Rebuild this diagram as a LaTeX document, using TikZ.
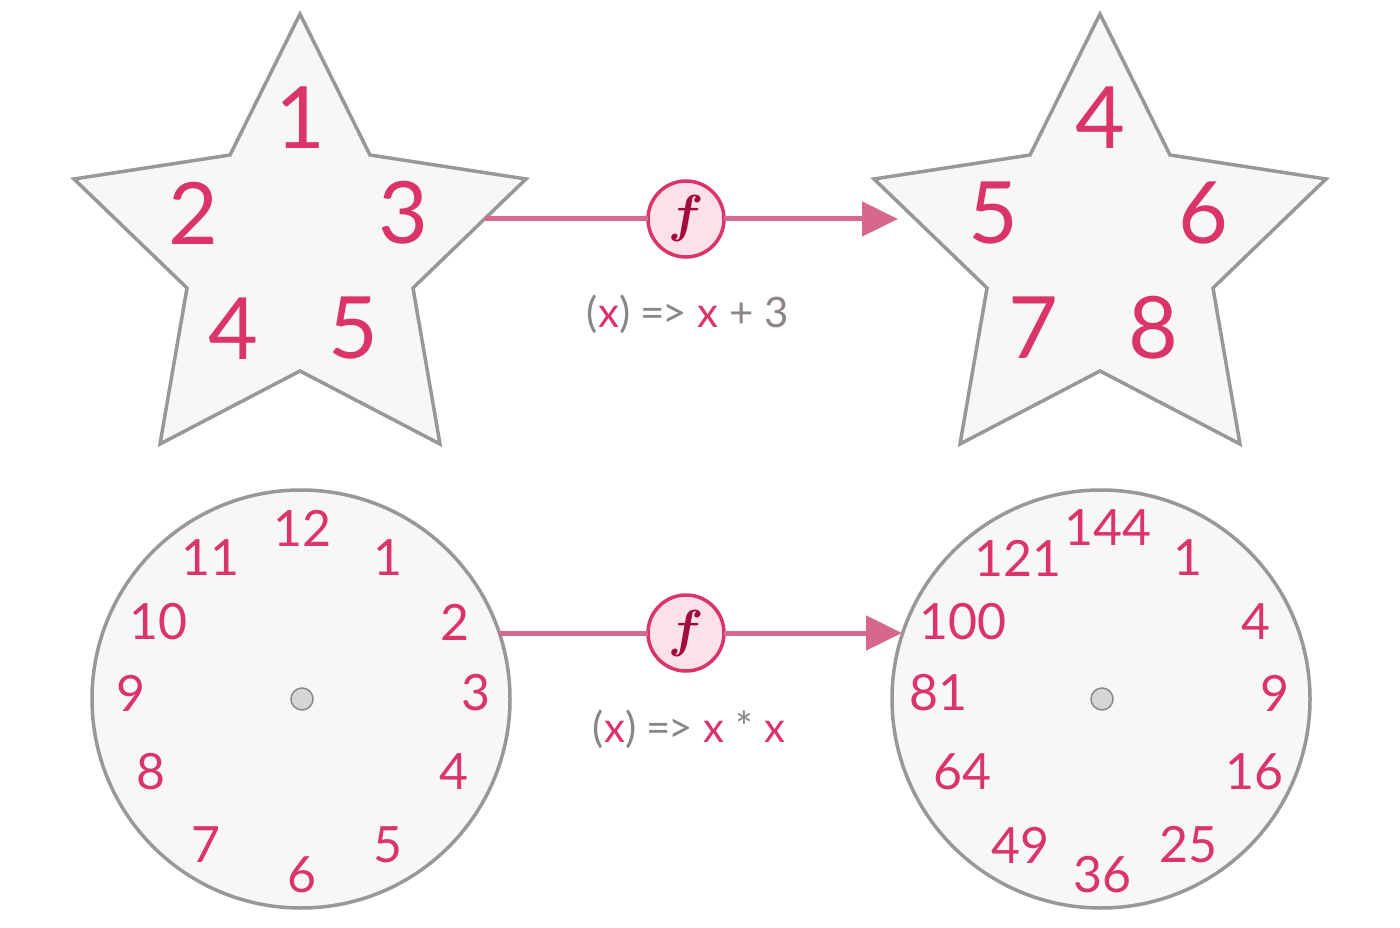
\documentclass[tikz,border=0pt]{standalone}
\usepackage{fontspec}
\setmainfont{Lato}
\usetikzlibrary{arrows.meta}
\definecolor{numpink}{HTML}{DA3468}
\definecolor{arrowpink}{HTML}{D6698B}
\definecolor{fpink}{HTML}{FCE1E9}
\definecolor{fdark}{HTML}{A10A3A}
\definecolor{shapegray}{HTML}{989898}
\definecolor{shapefill}{HTML}{F7F7F7}
\definecolor{labelgray}{HTML}{8B8585}
\definecolor{dotfill}{HTML}{D6D6D6}
\tikzset{
  starshape/.style={draw=shapegray, fill=shapefill, line width=3.5pt, line join=miter},
  bignum/.style={text=numpink, font=\fontsize{86}{86}\selectfont, inner sep=0pt},
  clocknum/.style={text=numpink, font=\fontsize{50}{50}\selectfont, inner sep=0pt},
  clockface/.style={circle, draw=shapegray, fill=shapefill, line width=3.5pt, minimum size=418pt, inner sep=0pt, outer sep=0pt},
  centerdot/.style={circle, draw=shapegray!90!black, fill=dotfill, line width=1.5pt, minimum size=22pt, inner sep=0pt},
  fnode/.style={circle, draw=numpink, fill=fpink, line width=3.5pt, minimum size=76pt, inner sep=0pt, outer sep=0pt, text=fdark},
  conn/.style={draw=arrowpink, line width=5pt},
  connarrow/.style={draw=arrowpink, line width=5pt, -{Triangle[length=36pt,width=34pt]}},
  fnlabel/.style={text=labelgray, font=\fontsize{42}{42}\selectfont, inner sep=0pt, anchor=base},
}
\newcommand{\px}[1]{\textcolor{numpink}{#1}}
\newcommand{\bigf}{\scalebox{5.2}{\boldmath$f$}}
\newcommand{\arrowsym}{=\kern-0.06em>}
\begin{document}
\begin{tikzpicture}[x=1pt,y=-1pt]
\useasboundingbox (0,0) rectangle (1400,928);
% stars
\draw[starshape] (300,14) -- (370,155) -- (526,179) -- (413,288) -- (440,444) -- (300,371) -- (160,444) -- (187,288) -- (74,179) -- (230,155) -- cycle;
\draw[starshape] (1100,14) -- (1170,155) -- (1326,179) -- (1213,288) -- (1240,444) -- (1100,371) -- (960,444) -- (987,288) -- (874,179) -- (1030,155) -- cycle;
\coordinate (s1r) at (485,219);
\coordinate (s2l) at (898,219);
\node[bignum] (a1) at (300,118) {1};
\node[bignum] (a2) at (193,213) {2};
\node[bignum] (a3) at (403,213) {3};
\node[bignum] (a4) at (233,329) {4};
\node[bignum] (a5) at (353,328) {5};
\node[bignum] (b4) at (1100,118) {4};
\node[bignum] (b5) at (993,213) {5};
\node[bignum] (b6) at (1203,213) {6};
\node[bignum] (b7) at (1033,328) {7};
\node[bignum] (b8) at (1153,328) {8};
% top function
\node[fnode] (f1) at (686,219) {\bigf};
\draw[conn] (s1r) -- (f1);
\draw[connarrow] (f1) -- (s2l);
\node[fnlabel] (l1) at (688,327) {(\px{x}) \arrowsym{} \px{x} + 3};
% clocks
\node[clockface] (c1) at (301,699) {};
\node[clockface] (c2) at (1101,699) {};
\coordinate (c1r) at (499,633);
\coordinate (c2l) at (902,633);
\node[centerdot] (d1) at (302,699) {};
\node[centerdot] (d2) at (1102,699) {};
\node[clocknum] (k12) at (302,528) {12};
\node[clocknum] (k1) at (388,558) {1};
\node[clocknum] (k2) at (455,622) {2};
\node[clocknum] (k3) at (476,693) {3};
\node[clocknum] (k4) at (454,772) {4};
\node[clocknum] (k5) at (388,845) {5};
\node[clocknum] (k6) at (302,875) {6};
\node[clocknum] (k7) at (206,845) {7};
\node[clocknum] (k8) at (151,772) {8};
\node[clocknum] (k9) at (131,693) {9};
\node[clocknum] (k10) at (158,622) {10};
\node[clocknum] (k11) at (210,558) {11};
\node[clocknum] (q12) at (1108,528) {144};
\node[clocknum] (q1) at (1188,558) {1};
\node[clocknum] (q2) at (1256,622) {4};
\node[clocknum] (q3) at (1275,693) {9};
\node[clocknum] (q4) at (1254,772) {16};
\node[clocknum] (q5) at (1188,845) {25};
\node[clocknum] (q6) at (1102,875) {36};
\node[clocknum] (q7) at (1020,845) {49};
\node[clocknum] (q8) at (962,772) {64};
\node[clocknum] (q9) at (938,693) {81};
\node[clocknum] (q10) at (963,622) {100};
\node[clocknum] (q11) at (1018,558) {121};
% bottom function
\node[fnode] (f2) at (686,633) {\bigf};
\draw[conn] (c1r) -- (f2);
\draw[connarrow] (f2) -- (c2l);
\node[fnlabel] (l2) at (689,742) {(\px{x}) \arrowsym{} \px{x} * \px{x}};
\end{tikzpicture}
\end{document}
